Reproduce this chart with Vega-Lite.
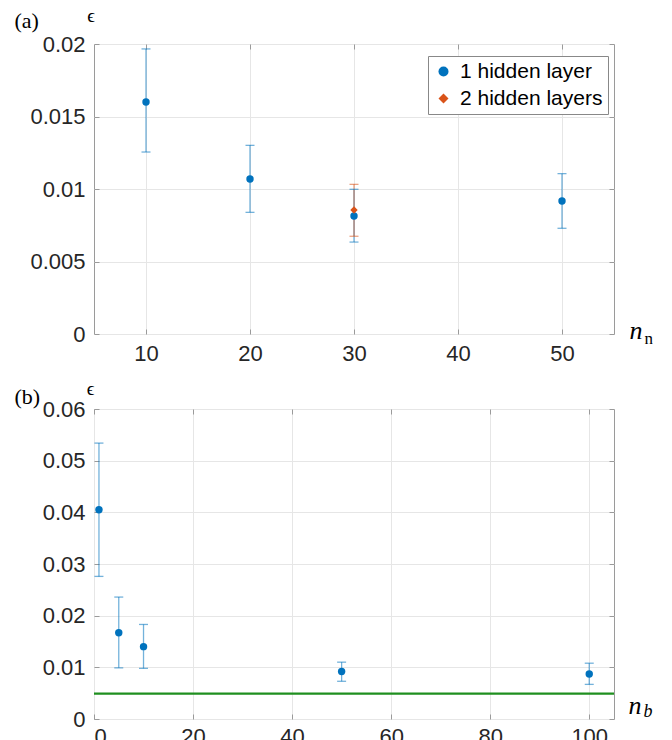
{
  "$schema": "https://vega.github.io/schema/vega-lite/v6.json",
  "autosize": {"type": "pad"},
  "padding": {"left": 13, "top": 5, "right": 0, "bottom": 0},
  "background": "white",
  "spacing": 75,
  "bounds": "flush",
  "resolve": {"scale": {"color": "independent", "shape": "independent"}, "legend": {"color": "independent", "shape": "independent"}},
  "datasets": {
    "a": [
      {"n": 10, "eps": 0.0160, "lo": 0.01255, "hi": 0.01966, "series": "1 hidden layer"},
      {"n": 20, "eps": 0.01069, "lo": 0.00839, "hi": 0.01301, "series": "1 hidden layer"},
      {"n": 30, "eps": 0.00814, "lo": 0.00634, "hi": 0.00998, "series": "1 hidden layer"},
      {"n": 50, "eps": 0.00917, "lo": 0.00729, "hi": 0.01106, "series": "1 hidden layer"},
      {"n": 30, "eps": 0.00855, "lo": 0.00674, "hi": 0.01032, "series": "2 hidden layers"}
    ],
    "b": [
      {"nb": 1, "eps": 0.0405, "lo": 0.0276, "hi": 0.0534},
      {"nb": 5, "eps": 0.0167, "lo": 0.0099, "hi": 0.0236},
      {"nb": 10, "eps": 0.0140, "lo": 0.0098, "hi": 0.0183},
      {"nb": 50, "eps": 0.0092, "lo": 0.0073, "hi": 0.0110},
      {"nb": 100, "eps": 0.0087, "lo": 0.0067, "hi": 0.0108}
    ],
    "floor": [
      {"nb": 0, "eps": 0.0049},
      {"nb": 105, "eps": 0.0049}
    ]
  },
  "config": {
    "view": {"stroke": "#9a9a9a", "strokeWidth": 1},
    "axis": {
      "labelFont": "Liberation Sans",
      "labelFontSize": 22,
      "labelColor": "#262626",
      "tickColor": "#9a9a9a",
      "tickSize": -5,
      "gridColor": "#e6e6e6",
      "domain": false,
      "titleFont": "Liberation Serif",
      "titleFontWeight": "normal",
      "titleColor": "#000000",
      "titlePadding": 0
    },
    "legend": {
      "labelFont": "Liberation Sans",
      "labelFontSize": 21,
      "labelColor": "#000000",
      "strokeColor": "#888888",
      "fillColor": "#ffffff",
      "padding": 5,
      "rowPadding": 5,
      "symbolOffset": 0,
      "labelOffset": 6
    }
  },
  "vconcat": [
    {
      "width": 520,
      "height": 290,
      "data": {"name": "a"},
      "resolve": {"axis": {"x": "independent", "y": "independent"}},
      "layer": [
        {
          "mark": {"type": "rule", "strokeWidth": 1.3, "strokeOpacity": 0.55},
          "encoding": {
            "x": {"field": "n", "type": "quantitative",
              "scale": {"domain": [5, 55], "nice": false, "zero": false},
              "axis": {"orient": "bottom", "values": [10, 20, 30, 40, 50], "grid": true, "labelPadding": 14,
                "title": "n", "titleFontStyle": "italic", "titleFontSize": 26, "titleX": 535, "titleY": 4,
                "titleAlign": "left", "titleBaseline": "alphabetic", "titleAngle": 0}},
            "y": {"field": "lo", "type": "quantitative",
              "scale": {"domain": [0, 0.02], "nice": false},
              "axis": {"orient": "left", "values": [0, 0.005, 0.01, 0.015, 0.02], "format": "~g", "grid": true, "labelPadding": 14,
                "title": "ϵ", "titleAngle": 0, "titleX": -3.5, "titleY": -23, "titleAlign": "center",
                "titleBaseline": "alphabetic", "titleFontSize": 19}},
            "y2": {"field": "hi"},
            "stroke": {"condition": {"test": "datum.series === '2 hidden layers'", "value": "#D95319"}, "value": "#0072BD"}
          }
        },
        {
          "mark": {"type": "tick", "orient": "horizontal", "size": 9, "thickness": 1.3, "fillOpacity": 0.55},
          "encoding": {
            "x": {"field": "n", "type": "quantitative", "axis": null},
            "y": {"field": "lo", "type": "quantitative", "axis": null},
            "fill": {"condition": {"test": "datum.series === '2 hidden layers'", "value": "#D95319"}, "value": "#0072BD"}
          }
        },
        {
          "mark": {"type": "tick", "orient": "horizontal", "size": 9, "thickness": 1.3, "fillOpacity": 0.55},
          "encoding": {
            "x": {"field": "n", "type": "quantitative", "axis": null},
            "y": {"field": "hi", "type": "quantitative", "axis": null},
            "fill": {"condition": {"test": "datum.series === '2 hidden layers'", "value": "#D95319"}, "value": "#0072BD"}
          }
        },
        {
          "mark": {"type": "point", "filled": true, "size": 55, "opacity": 1, "strokeWidth": 0},
          "encoding": {
            "x": {"field": "n", "type": "quantitative",
              "axis": {"orient": "top", "labels": false, "grid": false, "values": [10, 20, 30, 40, 50],
                "title": "(a)", "titleX": -80, "titleY": -17, "titleAlign": "left", "titleBaseline": "alphabetic",
                "titleFontSize": 22, "titleAngle": 0}},
            "y": {"field": "eps", "type": "quantitative",
              "axis": {"orient": "right", "labels": false, "grid": false, "values": [0, 0.005, 0.01, 0.015, 0.02],
                "title": "n", "titleX": 30, "titleY": 299, "titleAlign": "left", "titleBaseline": "alphabetic",
                "titleFontSize": 17, "titleAngle": 0}},
            "color": {"field": "series", "type": "nominal",
              "scale": {"domain": ["1 hidden layer", "2 hidden layers"], "range": ["#0072BD", "#D95319"]},
              "legend": {"title": null, "orient": "none", "legendX": 334, "legendY": 12}},
            "shape": {"field": "series", "type": "nominal",
              "scale": {"domain": ["1 hidden layer", "2 hidden layers"], "range": ["circle", "diamond"]},
              "legend": {"title": null, "orient": "none", "legendX": 334, "legendY": 12}}
          }
        }
      ]
    },
    {
      "width": 520,
      "height": 310,
      "data": {"name": "b"},
      "resolve": {"axis": {"x": "independent", "y": "independent"}},
      "layer": [
        {
          "mark": {"type": "rule", "strokeWidth": 1.3, "strokeOpacity": 0.55, "color": "#0072BD"},
          "encoding": {
            "x": {"field": "nb", "type": "quantitative",
              "scale": {"domain": [0, 105], "nice": false, "zero": false},
              "axis": {"orient": "bottom", "values": [0, 20, 40, 60, 80, 100], "grid": true, "labelPadding": 12,
                "title": "n", "titleFontStyle": "italic", "titleFontSize": 26, "titleX": 534, "titleY": -6,
                "titleAlign": "left", "titleBaseline": "alphabetic", "titleAngle": 0}},
            "y": {"field": "lo", "type": "quantitative",
              "scale": {"domain": [0, 0.06], "nice": false},
              "axis": {"orient": "left", "values": [0, 0.01, 0.02, 0.03, 0.04, 0.05, 0.06], "format": "~g", "grid": true, "labelPadding": 14,
                "title": "ϵ", "titleAngle": 0, "titleX": -4, "titleY": -15, "titleAlign": "center",
                "titleBaseline": "alphabetic", "titleFontSize": 19}},
            "y2": {"field": "hi"}
          }
        },
        {
          "mark": {"type": "tick", "orient": "horizontal", "size": 9, "thickness": 1.3, "fillOpacity": 0.55, "color": "#0072BD"},
          "encoding": {
            "x": {"field": "nb", "type": "quantitative", "axis": null},
            "y": {"field": "lo", "type": "quantitative", "axis": null}
          }
        },
        {
          "mark": {"type": "tick", "orient": "horizontal", "size": 9, "thickness": 1.3, "fillOpacity": 0.55, "color": "#0072BD"},
          "encoding": {
            "x": {"field": "nb", "type": "quantitative", "axis": null},
            "y": {"field": "hi", "type": "quantitative", "axis": null}
          }
        },
        {
          "data": {"name": "floor"},
          "mark": {"type": "line", "color": "#1f8f1f", "strokeWidth": 2.2},
          "encoding": {
            "x": {"field": "nb", "type": "quantitative", "axis": null},
            "y": {"field": "eps", "type": "quantitative", "axis": null}
          }
        },
        {
          "mark": {"type": "point", "filled": true, "size": 55, "opacity": 1, "strokeWidth": 0, "color": "#0072BD", "shape": "circle"},
          "encoding": {
            "x": {"field": "nb", "type": "quantitative",
              "axis": {"orient": "top", "labels": false, "grid": false, "values": [0, 20, 40, 60, 80, 100],
                "title": "(b)", "titleX": -80, "titleY": -6, "titleAlign": "left", "titleBaseline": "alphabetic",
                "titleFontSize": 22, "titleAngle": 0}},
            "y": {"field": "eps", "type": "quantitative",
              "axis": {"orient": "right", "labels": false, "grid": false, "values": [0, 0.01, 0.02, 0.03, 0.04, 0.05, 0.06],
                "title": "b", "titleFontStyle": "italic", "titleX": 29, "titleY": 307, "titleAlign": "left", "titleBaseline": "alphabetic",
                "titleFontSize": 18, "titleAngle": 0}}
          }
        }
      ]
    }
  ]
}
